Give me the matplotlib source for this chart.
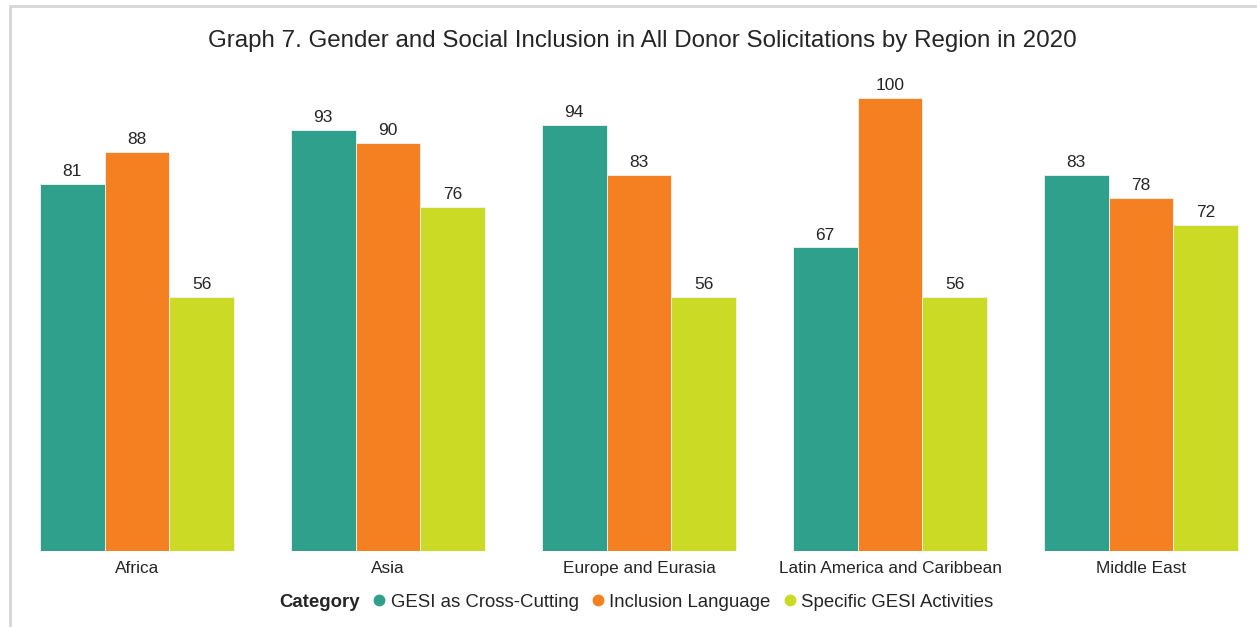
import matplotlib
matplotlib.use("Agg")
import matplotlib.pyplot as plt
from matplotlib.lines import Line2D
from matplotlib.patches import Rectangle
import numpy as np

plt.rcParams['font.family'] = ['Liberation Sans', 'DejaVu Sans']

regions = ["Africa", "Asia", "Europe and Eurasia", "Latin America and Caribbean", "Middle East"]
series_names = ["GESI as Cross-Cutting", "Inclusion Language", "Specific GESI Activities"]
cross_cutting = [81, 93, 94, 67, 83]
inclusion_language = [88, 90, 83, 100, 78]
specific_activities = [56, 76, 56, 56, 72]
colors = ["#2EA08C", "#F58022", "#CBDA25"]

W, H = 1257, 627
fig = plt.figure(figsize=(W / 100, H / 100), dpi=100)

# axes placed in pixel terms: baseline at y=551, plot region across the width
left_px, right_px, top_px, bottom_px = 20, 1250, 60, 551
ax = fig.add_axes([left_px / W, 1 - bottom_px / H, (right_px - left_px) / W, (bottom_px - top_px) / H])

spacing = 251.0
center0 = 137.0
ax.set_xlim((left_px - center0) / spacing, (right_px - center0) / spacing)
ax.set_ylim(0, (bottom_px - top_px) / 4.53)

x = np.arange(len(regions))
bw = 0.258
all_series = [cross_cutting, inclusion_language, specific_activities]
for i, (vals, col) in enumerate(zip(all_series, colors)):
    pos = x + (i - 1) * bw
    ax.bar(pos, vals, width=bw, color=col, edgecolor="#f3f3f3", linewidth=0.6, zorder=2)
    for px, v in zip(pos, vals):
        ax.text(px, v + 1.1, f"{v}", ha="center", va="bottom", fontsize=12.5, color="#252525")

ax.set_xticks(x)
ax.set_xticklabels(regions, fontsize=12.4, color="#252525")
ax.tick_params(axis="x", length=0, pad=7)
ax.set_yticks([])
for s in ax.spines.values():
    s.set_visible(False)

fig.text(642 / W, 1 - 41 / H, "Graph 7. Gender and Social Inclusion in All Donor Solicitations by Region in 2020",
         ha="center", va="center", fontsize=17.4, color="#252525")

handles = [Line2D([], [], linestyle="none")] + [
    Line2D([], [], marker="o", linestyle="none", markersize=7.5, markerfacecolor=c, markeredgecolor=c)
    for c in colors
]
labels = ["Category"] + series_names
leg = fig.legend(handles, labels, loc="center", bbox_to_anchor=(628 / W, 1 - 602 / H), ncol=4,
                 frameon=False, fontsize=13.4, handlelength=0.6, handletextpad=0.3, columnspacing=0.75)
leg.get_texts()[0].set_fontweight("bold")
for t in leg.get_texts():
    t.set_color("#252525")

# light frame along the top and left edges
fig.patches.append(Rectangle((10 / W, -0.05), 1.2, 1 - 6 / H + 0.05, transform=fig.transFigure,
                             fill=False, edgecolor="#d6d6d6", linewidth=2))

fig.savefig("out.png", dpi=100)
